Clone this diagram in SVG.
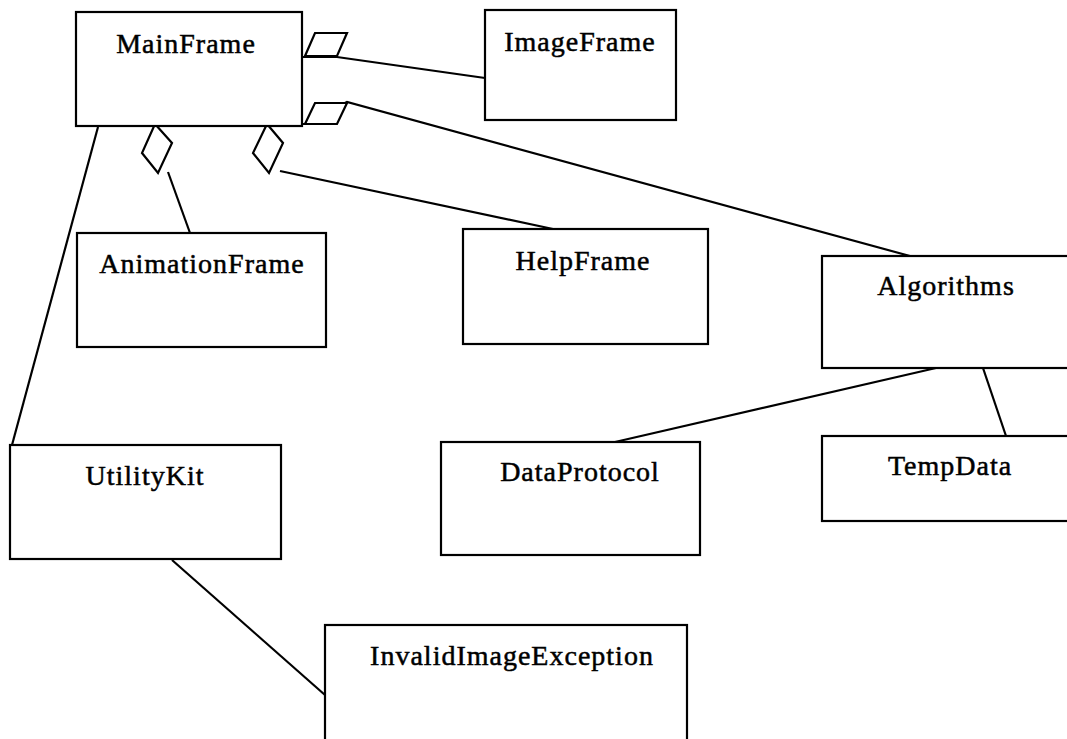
<svg xmlns="http://www.w3.org/2000/svg" width="1067" height="739" viewBox="0 0 1067 739">
<style>
.box{fill:#fff;stroke:#000;stroke-width:2.2}
.lbl{font-family:"Liberation Serif","Times New Roman",serif;font-size:28px;letter-spacing:1px;fill:#000;stroke:#000;stroke-width:0.5;text-anchor:middle}
.ln{fill:none;stroke:#000;stroke-width:2.2}
.dia{fill:#fff;stroke:#000;stroke-width:2.2;stroke-linejoin:miter}
</style>
<rect width="1067" height="739" fill="#fff"/>
<g id="connectors">
<polyline class="ln" points="302,57 337,57 485,78"/>
<polyline class="ln" points="302,124 305,124 347,102 910,256"/>
<line class="ln" x1="168" y1="172" x2="190" y2="233"/>
<line class="ln" x1="280" y1="171" x2="553" y2="229"/>
<line class="ln" x1="98" y1="127" x2="12" y2="445"/>
<line class="ln" x1="936" y1="368" x2="615" y2="442"/>
<line class="ln" x1="983" y1="368" x2="1006" y2="436"/>
<line class="ln" x1="172" y1="560" x2="325" y2="695"/>
<polygon class="dia" points="305,56 315,33 347,33 337,56"/>
<polygon class="dia" points="305,124 315,103 347,103 337,124"/>
<polygon class="dia" points="155,124 172,143 158,173 142,153"/>
<polygon class="dia" points="267,124 283,143 269,173 253,153"/>
</g>
<g id="MainFrame"><rect class="box" x="76" y="12" width="226" height="114"/><text class="lbl" x="186" y="53">MainFrame</text></g>
<g id="ImageFrame"><rect class="box" x="485" y="10" width="191" height="110"/><text class="lbl" x="580" y="51">ImageFrame</text></g>
<g id="AnimationFrame"><rect class="box" x="77" y="233" width="249" height="114"/><text class="lbl" x="202" y="273">AnimationFrame</text></g>
<g id="HelpFrame"><rect class="box" x="463" y="229" width="245" height="115"/><text class="lbl" x="583" y="270">HelpFrame</text></g>
<g id="Algorithms"><rect class="box" x="822" y="256" width="260" height="112"/><text class="lbl" x="946" y="295">Algorithms</text></g>
<g id="UtilityKit"><rect class="box" x="10" y="445" width="271" height="114"/><text class="lbl" x="145" y="485">UtilityKit</text></g>
<g id="DataProtocol"><rect class="box" x="441" y="442" width="259" height="113"/><text class="lbl" x="580" y="481">DataProtocol</text></g>
<g id="TempData"><rect class="box" x="822" y="436" width="260" height="85"/><text class="lbl" x="950" y="475">TempData</text></g>
<g id="InvalidImageException"><rect class="box" x="325" y="625" width="362" height="120"/><text class="lbl" x="512" y="665">InvalidImageException</text></g>
</svg>
